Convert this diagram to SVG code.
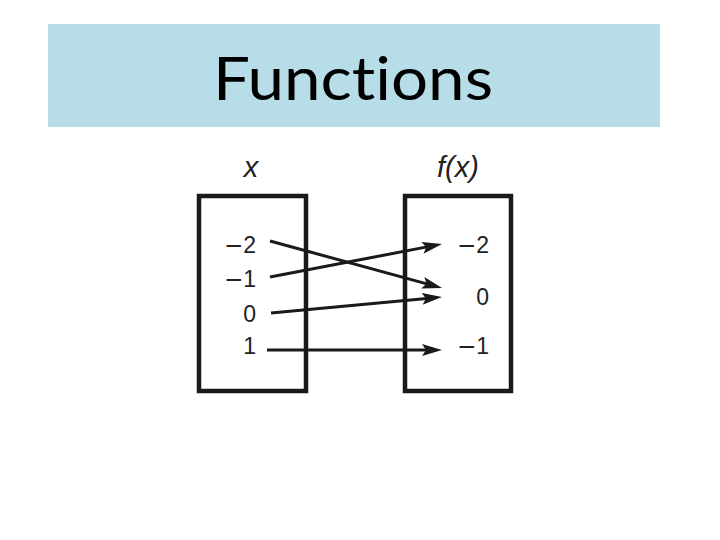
<svg xmlns="http://www.w3.org/2000/svg" width="720" height="540" viewBox="0 0 720 540">
<style>
.num{font-family:"Liberation Sans",Arial,sans-serif;font-size:23px;fill:#222;}
.mn{font-family:"DejaVu Sans",sans-serif;}
.lab{font-family:"Liberation Sans",Arial,sans-serif;font-size:29px;font-style:italic;fill:#222;}
.box{fill:none;stroke:#1a1a1a;stroke-width:4.5;}
.arr{stroke:#1a1a1a;stroke-width:3;fill:none;marker-end:url(#ah);}
.ttl{font-family:Lato,"Liberation Sans",Arial,sans-serif;font-size:60px;fill:#000;font-variant-ligatures:none;font-feature-settings:"liga" 0;}
</style>
<defs>
<marker id="ah" markerUnits="userSpaceOnUse" markerWidth="22" markerHeight="14" refX="10" refY="6" orient="auto">
<path d="M0,0 L20,6 L0,12 L4,6 z" fill="#1a1a1a"/>
</marker>
</defs>
<rect width="720" height="540" fill="#fff"/>
<g id="title">
<rect x="48" y="24" width="612" height="103" fill="#b7dde8"/>
<text class="ttl" x="353" y="100" text-anchor="middle" textLength="280" lengthAdjust="spacingAndGlyphs">Functions</text>
</g>
<g id="domain">
<text class="lab" x="251" y="177" text-anchor="middle">x</text>
<rect class="box" x="199" y="196" width="107" height="195"/>
<text class="num" x="256" y="253" text-anchor="end"><tspan class="mn">−</tspan>2</text>
<text class="num" x="256" y="287" text-anchor="end"><tspan class="mn">−</tspan>1</text>
<text class="num" x="256" y="322" text-anchor="end">0</text>
<text class="num" x="256" y="354" text-anchor="end">1</text>
</g>
<g id="range">
<text class="lab" x="458" y="177" text-anchor="middle">f(x)</text>
<rect class="box" x="405" y="196" width="106" height="195"/>
<text class="num" x="489" y="253" text-anchor="end"><tspan class="mn">−</tspan>2</text>
<text class="num" x="489" y="305" text-anchor="end">0</text>
<text class="num" x="489" y="354" text-anchor="end"><tspan class="mn">−</tspan>1</text>
</g>
<g id="connectors">
<line class="arr" x1="270" y1="241" x2="432.4" y2="285.4"/>
<line class="arr" x1="270" y1="277" x2="432.2" y2="245.9"/>
<line class="arr" x1="271" y1="313" x2="432" y2="297.9"/>
<line class="arr" x1="267" y1="350" x2="432" y2="350"/>
</g>
</svg>
